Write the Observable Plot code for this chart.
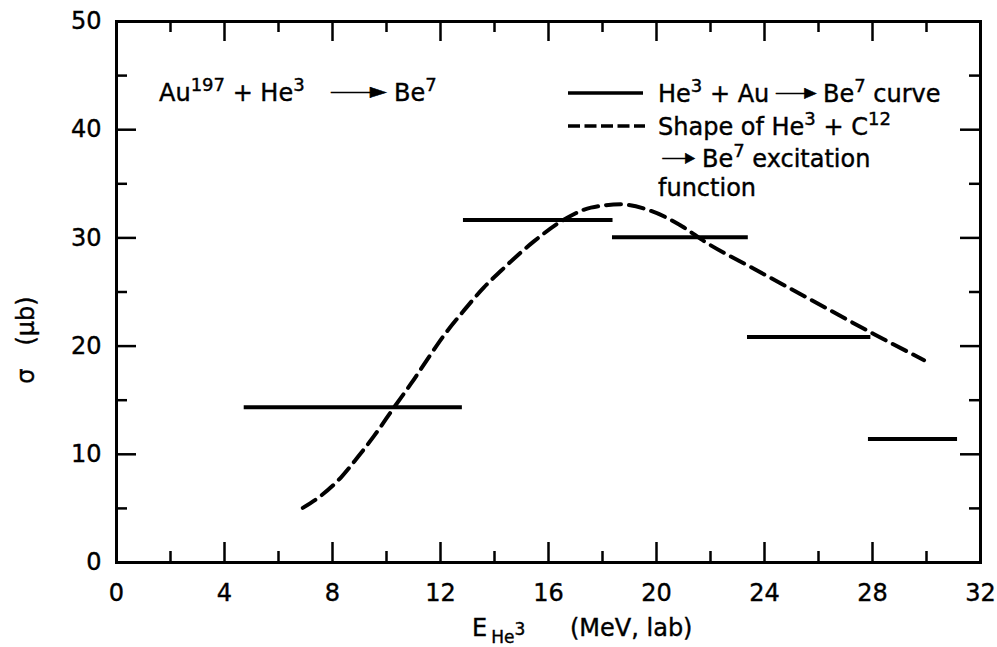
<!DOCTYPE html>
<html><head><meta charset="utf-8">
<script src="https://cdn.jsdelivr.net/npm/d3@7"></script>
<script src="https://cdn.jsdelivr.net/npm/@observablehq/plot@0.6"></script>
<style>
body{margin:0;background:#fff;}
svg text{white-space:pre; stroke:#000; stroke-width:0.4px;}
</style>
</head><body><div id="chart"></div>
<script>
// ---- data ----
// dashed curve: shape of He3 + C12 -> Be7 excitation function
const curveE     = [6.9, 7.56, 8.31, 8.93, 9.54, 10.28, 10.9, 11.52, 12.13, 12.87, 13.6, 14.24, 15.47, 16.58, 17.57, 18.68, 19.79, 21.02, 21.76, 23.49, 25.34, 28.06, 29.91];
const curveSigma = [5.05, 6.15, 7.85, 9.72, 11.7, 14.34, 16.5, 18.8, 21.0, 23.3, 25.4, 26.96, 29.7, 31.7, 32.8, 33.1, 32.5, 30.96, 29.7, 27.3, 24.8, 21.1, 18.7];
// solid histogram bars: He3 + Au -> Be7 curve
const barStart = [4.73, 12.85, 18.37, 23.37, 27.85];
const barEnd   = [12.81, 18.39, 23.4, 27.94, 31.15];
const barSigma = [14.34, 31.65, 30.05, 20.85, 11.42];
// ticks
const xMajor = [0, 4, 8, 12, 16, 20, 24, 28, 32];
const xMinor = [2, 6, 10, 14, 18, 22, 26, 30];
const yMajor = [0, 10, 20, 30, 40, 50];
const yMinor = [5, 15, 25, 35, 45];

const curve = curveE.map((e, i) => ({e, s: curveSigma[i]}));
const bars = barStart.map((s, i) => ({start: s, end: barEnd[i], sigma: barSigma[i]}));

const W = 997, H = 647, mL = 116, mR = 17, mT = 21, mB = 85;
const plotH = H - mT - mB, plotW = W - mL - mR;
const FONT = "'DejaVu Sans', 'Liberation Sans', sans-serif";
const MAJ = 20, MIN = 11, TW = 2.5;

const svg = Plot.plot({
  width: W, height: H,
  marginLeft: mL, marginRight: mR, marginTop: mT, marginBottom: mB,
  x: {domain: [0, 32]},
  y: {domain: [0, 50]},
  style: {fontFamily: FONT, fontSize: "24px", color: "#000", background: "#fff"},
  marks: [
    // inward ticks, all four sides
    Plot.ruleX(xMajor, {x: d => d, insetTop: plotH - MAJ, strokeWidth: TW}),
    Plot.ruleX(xMinor, {x: d => d, insetTop: plotH - MIN, strokeWidth: TW}),
    Plot.ruleX(xMajor, {x: d => d, insetBottom: plotH - MAJ, strokeWidth: TW}),
    Plot.ruleX(xMinor, {x: d => d, insetBottom: plotH - MIN, strokeWidth: TW}),
    Plot.ruleY(yMajor, {y: d => d, insetRight: plotW - MAJ, strokeWidth: TW}),
    Plot.ruleY(yMinor, {y: d => d, insetRight: plotW - MIN, strokeWidth: TW}),
    Plot.ruleY(yMajor, {y: d => d, insetLeft: plotW - MAJ, strokeWidth: TW}),
    Plot.ruleY(yMinor, {y: d => d, insetLeft: plotW - MIN, strokeWidth: TW}),
    Plot.axisX({ticks: xMajor, tickSize: 0, tickPadding: 21, label: null, fontSize: 24}),
    Plot.axisY({ticks: yMajor, tickSize: 0, tickPadding: 15, label: null, fontSize: 24}),
    Plot.ruleY(bars, {x1: "start", x2: "end", y: "sigma", strokeWidth: 4}),
    Plot.line(curve, {x: "e", y: "s", curve: "monotone-x", strokeWidth: 4, strokeDasharray: "15,8"}),
    Plot.frame({strokeWidth: 3})
  ]
});
document.getElementById("chart").appendChild(svg);

// ---- annotations (real text with super/subscripts) ----
const g = d3.select(svg).append("g").attr("font-family", FONT).attr("fill", "#000")
  .attr("text-anchor", "start");

function rich(x, y, parts, size) {
  const t = g.append("text").attr("x", x).attr("y", y).attr("font-size", size);
  let shift = 0;
  for (const [s, k] of parts) {
    const target = k === "sup" ? -0.42 * size : k === "sub" ? 0.32 * size : 0;
    t.append("tspan").attr("dy", target - shift).attr("font-size", k ? size * 0.75 : size).text(s);
    shift = target;
  }
  return t;
}
function arrow(x1, x2, yBase, size) {
  g.append("text").attr("x", x1).attr("y", yBase).attr("font-size", size)
    .attr("textLength", x2 - x1).attr("lengthAdjust", "spacingAndGlyphs").text("➝");
}

const FS = 24;
// top-left reaction label
rich(159, 101, [["Au"], ["197", "sup"], [" + He"], ["3", "sup"]], FS);
arrow(327, 390, 100, FS);
rich(394, 101, [["Be"], ["7", "sup"]], FS);

// legend
g.append("line").attr("x1", 568).attr("x2", 643).attr("y1", 93).attr("y2", 93)
  .attr("stroke", "#000").attr("stroke-width", 3.5);
g.append("line").attr("x1", 568).attr("x2", 645).attr("y1", 126).attr("y2", 126)
  .attr("stroke", "#000").attr("stroke-width", 3.5).attr("stroke-dasharray", "12,4.5");
rich(658, 102, [["He"], ["3", "sup"], [" + Au"]], FS);
arrow(773, 819, 101, FS);
rich(823, 102, [["Be"], ["7", "sup"], [" curve"]], FS);
rich(658, 135, [["Shape of He"], ["3", "sup"], [" + C"], ["12", "sup"]], FS);
arrow(660, 697, 166, FS);
rich(702, 167, [["Be"], ["7", "sup"], [" excitation"]], FS);
rich(658, 196, [["function"]], FS);

// axis titles
const xt = g.append("text").attr("x", 472).attr("y", 636).attr("font-size", FS);
xt.append("tspan").text("E");
xt.append("tspan").attr("dx", 4).attr("dy", 7).attr("font-size", 17).text("He");
xt.append("tspan").attr("dy", -8).attr("font-size", 17).text("3");
xt.append("tspan").attr("x", 570).attr("dy", 1).text("(MeV, lab)");

const yt = g.append("text").attr("transform", "translate(34,340) rotate(-90)")
  .attr("text-anchor", "middle").attr("font-size", FS);
yt.text("σ   (μb)");
</script>
</body></html>
